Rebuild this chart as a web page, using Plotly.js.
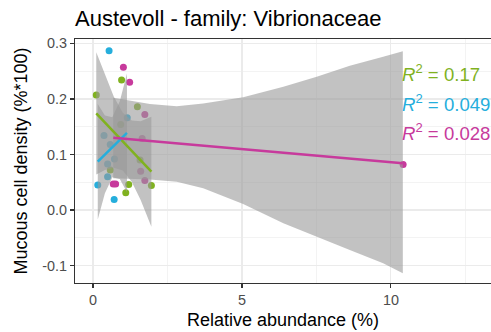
<!DOCTYPE html>
<html>
<head>
<meta charset="utf-8">
<script src="https://cdn.plot.ly/plotly-3.0.1.min.js"></script>
<style>html,body{margin:0;padding:0;background:#fff;}#chart{width:491px;height:332px;}</style>
</head>
<body>
<div id="chart"></div>
<script>
// ---- data ----
const greenX = [0.11, 0.96, 1.49, 0.93, 1.58, 0.58, 1.20, 1.10, 1.96];
const greenY = [0.207, 0.234, 0.186, 0.154, 0.090, 0.072, 0.046, 0.031, 0.044];
const blueX = [0.54, 1.15, 0.37, 0.58, 0.72, 0.49, 0.49, 0.16, 0.71];
const blueY = [0.287, 0.166, 0.134, 0.118, 0.092, 0.083, 0.060, 0.045, 0.019];
const magentaX = [1.02, 1.23, 1.74, 1.65, 1.60, 1.74, 0.68, 0.76, 10.41];
const magentaY = [0.257, 0.230, 0.172, 0.129, 0.070, 0.053, 0.047, 0.047, 0.082];

// fitted lines (end points)
const greenFitX = [0.11, 1.96];
const greenFitY = [0.174, 0.069];
const blueFitX = [0.16, 1.14];
const blueFitY = [0.087, 0.139];
const magentaFitX = [0.68, 10.40];
const magentaFitY = [0.130, 0.084];

// confidence bands (edges)
const greenBandX = [0.11, 0.40, 0.70, 1.00, 1.30, 1.60, 1.96];
const greenBandHi = [0.284, 0.244, 0.204, 0.175, 0.161, 0.160, 0.168];
const greenBandLo = [0.064, 0.072, 0.076, 0.071, 0.051, 0.018, -0.030];
const blueBandX = [0.16, 0.40, 0.65, 0.90, 1.14];
const blueBandHi = [0.191, 0.170, 0.167, 0.196, 0.246];
const blueBandLo = [-0.017, 0.030, 0.059, 0.056, 0.032];
const magentaBandX = [0.68, 1.91, 2.81, 3.70, 5.04, 6.39, 7.51, 8.62, 9.74, 10.40];
const magentaBandHi = [0.202, 0.191, 0.187, 0.192, 0.203, 0.222, 0.240, 0.260, 0.276, 0.286];
const magentaBandLo = [0.057, 0.055, 0.051, 0.039, 0.011, -0.024, -0.048, -0.072, -0.096, -0.114];

const r2Labels = ['0.17', '0.049', '0.028'];
const r2Y = [0.246, 0.192, 0.141];

const xTickVals = [0, 5, 10];
const xTickText = ['0', '5', '10'];
const yTickVals = [-0.1, 0, 0.1, 0.2, 0.3];
const yTickText = ['-0.1', '0.0', '0.1', '0.2', '0.3'];

// ---- styling ----
const GREEN = '#80b21f', BLUE = '#25aedc', MAGENTA = '#c73a9c';
const FONT = 'Liberation Sans, Arial, sans-serif';
const BAND = 'rgba(153,153,153,0.6)';

function pts(x, y, c) {
  return {x: x, y: y, type: 'scatter', mode: 'markers', marker: {color: c, size: 7}, hoverinfo: 'skip', showlegend: false};
}
function band(x, hi, lo) {
  return {x: x.concat(x.slice().reverse()), y: hi.concat(lo.slice().reverse()), type: 'scatter', mode: 'lines',
    fill: 'toself', fillcolor: BAND, line: {width: 0, color: 'rgba(0,0,0,0)'}, hoverinfo: 'skip', showlegend: false};
}
function fit(x, y, c) {
  return {x: x, y: y, type: 'scatter', mode: 'lines', line: {color: c, width: 2.5}, hoverinfo: 'skip', showlegend: false};
}

const data = [
  pts(greenX, greenY, GREEN), pts(blueX, blueY, BLUE), pts(magentaX, magentaY, MAGENTA),
  band(greenBandX, greenBandHi, greenBandLo), band(blueBandX, blueBandHi, blueBandLo), band(magentaBandX, magentaBandHi, magentaBandLo),
  fit(greenFitX, greenFitY, GREEN), fit(blueFitX, blueFitY, BLUE), fit(magentaFitX, magentaFitY, MAGENTA)
];

const r2Colors = [GREEN, BLUE, MAGENTA];
const annotations = r2Labels.map((v, i) => ({
  x: 10.29, y: r2Y[i], xref: 'x', yref: 'y', xanchor: 'left', yanchor: 'middle', showarrow: false,
  text: '<i>R</i><sup>2</sup> = ' + v, font: {family: FONT, size: 18.6, color: r2Colors[i]}
}));

const layout = {
  width: 491, height: 332,
  margin: {l: 75, r: 0, t: 39, b: 49, pad: 0},
  paper_bgcolor: '#ffffff', plot_bgcolor: '#ffffff',
  font: {family: FONT},
  title: {text: 'Austevoll - family: Vibrionaceae', x: 75 / 491, xanchor: 'left', xref: 'container',
    y: 1 - 18.5 / 332, yanchor: 'middle', yref: 'container', font: {family: FONT, size: 22, color: '#000'}},
  xaxis: {
    range: [-0.604, 13.36], tickvals: xTickVals, ticktext: xTickText,
    ticks: 'outside', ticklen: 4, tickwidth: 1.1, tickcolor: '#333',
    showline: true, linecolor: '#333', linewidth: 1.1, mirror: true,
    showgrid: true, gridcolor: '#ebebeb', gridwidth: 1.1, zeroline: false,
    minor: {dtick: 2.5, tick0: 0, showgrid: true, gridcolor: '#ebebeb', gridwidth: 0.6},
    tickfont: {family: FONT, size: 14.4, color: '#4d4d4d'},
    title: {text: 'Relative abundance (%)', font: {family: FONT, size: 18, color: '#000'}, standoff: 6}
  },
  yaxis: {
    range: [-0.1315, 0.308], tickvals: yTickVals, ticktext: yTickText,
    ticks: 'outside', ticklen: 4, tickwidth: 1.1, tickcolor: '#333',
    showline: true, linecolor: '#333', linewidth: 1.1, mirror: false,
    showgrid: true, gridcolor: '#ebebeb', gridwidth: 1.1, zeroline: false,
    minor: {dtick: 0.05, tick0: 0, showgrid: true, gridcolor: '#ebebeb', gridwidth: 0.6},
    tickfont: {family: FONT, size: 14.4, color: '#4d4d4d'},
    title: {text: 'Mucous cell density (%*100)', font: {family: FONT, size: 18, color: '#000'}, standoff: 9}
  },
  annotations: annotations
};

Plotly.newPlot('chart', data, layout, {staticPlot: true, displayModeBar: false});
</script>
</body>
</html>
